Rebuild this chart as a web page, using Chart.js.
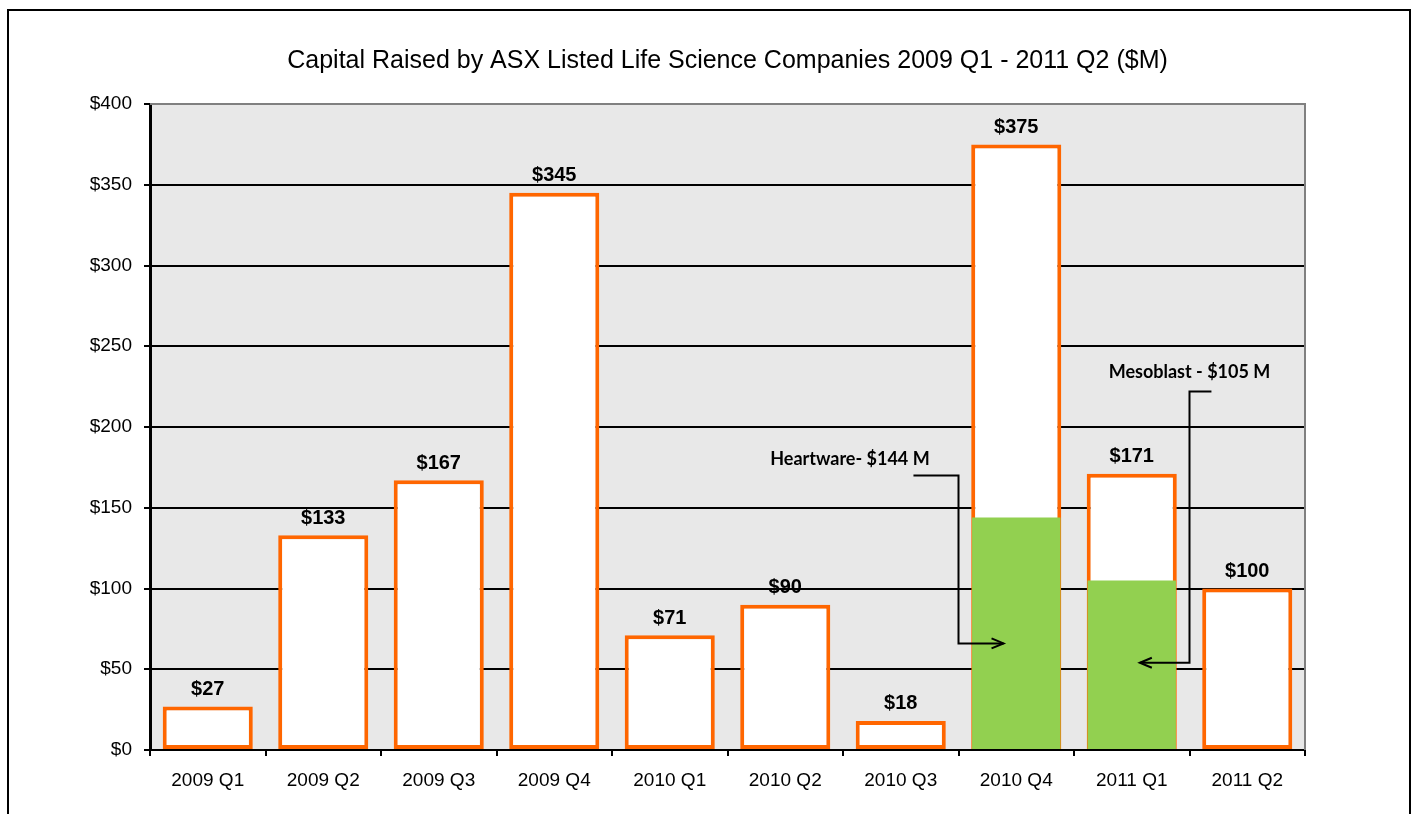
<!DOCTYPE html>
<html>
<head>
<meta charset="utf-8">
<script src="https://cdn.jsdelivr.net/npm/chart.js@4.4.1/dist/chart.umd.min.js"></script>
<style>
  html, body { margin: 0; padding: 0; background: #fff; }
  #frame { position: absolute; left: 7px; top: 9px; width: 1400px; height: 900px; border: 2px solid #000; }
  #wrap { position: absolute; left: 0; top: 0; width: 1416px; height: 814px; }
</style>
</head>
<body>
<div id="frame"></div>
<div id="wrap"><canvas id="chart" width="1416" height="814"></canvas></div>
<script>
// chart data
var quarters = ['2009 Q1', '2009 Q2', '2009 Q3', '2009 Q4', '2010 Q1', '2010 Q2', '2010 Q3', '2010 Q4', '2011 Q1', '2011 Q2'];
var totalRaised = [27, 133, 167, 345, 71, 90, 18, 375, 171, 100];
var singleRaise = [null, null, null, null, null, null, null, 144, 105, null];
var yTickValues = [0, 50, 100, 150, 200, 250, 300, 350, 400];
var calloutTexts = ['Heartware- $144 M', 'Mesoblast - $105 M'];

// callout geometry in axis units (category index, value)
var callouts = [
  { text: calloutTexts[0], label: [5.56, 180], path: [[6.11, 170], [6.5, 170], [6.5, 66], [6.89, 66]] },
  { text: calloutTexts[1], label: [8.5, 234], path: [[8.69, 222], [8.5, 222], [8.5, 54], [8.07, 54]] }
];

var ORANGE = '#FF6600';
var GREEN = '#92D050';
var ARIAL = '"Liberation Sans", Arial, sans-serif';

var plotBackground = {
  id: 'plotBackground',
  beforeDraw: function(chart) {
    var a = chart.chartArea, ctx = chart.ctx;
    ctx.save();
    ctx.fillStyle = '#E8E8E8';
    ctx.fillRect(a.left, a.top, a.right - a.left, a.bottom - a.top);
    ctx.restore();
  },
  afterDraw: function(chart) {
    var a = chart.chartArea, ctx = chart.ctx;
    ctx.save();
    ctx.strokeStyle = '#808080';
    ctx.lineWidth = 2;
    ctx.beginPath();
    ctx.moveTo(a.left, a.top);
    ctx.lineTo(a.right, a.top);
    ctx.lineTo(a.right, a.bottom);
    ctx.stroke();
    ctx.restore();
  }
};

var valueLabels = {
  id: 'valueLabels',
  afterDatasetsDraw: function(chart) {
    var ctx = chart.ctx;
    var meta = chart.getDatasetMeta(0);
    ctx.save();
    ctx.font = 'bold 20px ' + ARIAL;
    ctx.fillStyle = '#000';
    ctx.textAlign = 'center';
    ctx.textBaseline = 'middle';
    meta.data.forEach(function(bar, i) {
      ctx.fillText('$' + totalRaised[i], bar.x, bar.y - 17);
    });
    ctx.restore();
  }
};

var calloutPlugin = {
  id: 'callouts',
  afterDatasetsDraw: function(chart) {
    var ctx = chart.ctx, xs = chart.scales.x, ys = chart.scales.y;
    var px = function(p) { return [xs.getPixelForValue(p[0]), ys.getPixelForValue(p[1])]; };
    ctx.save();
    callouts.forEach(function(c) {
      var lp = px(c.label);
      ctx.font = 'bold 18px Lato, "Open Sans", sans-serif';
      ctx.fillStyle = '#000';
      ctx.textAlign = 'center';
      ctx.textBaseline = 'middle';
      ctx.fillText(c.text, lp[0], lp[1]);

      var pts = c.path.map(px);
      ctx.strokeStyle = '#000';
      ctx.lineWidth = 2;
      ctx.beginPath();
      ctx.moveTo(pts[0][0], pts[0][1]);
      for (var k = 1; k < pts.length; k++) ctx.lineTo(pts[k][0], pts[k][1]);
      ctx.stroke();

      // open arrow head
      var end = pts[pts.length - 1], prev = pts[pts.length - 2];
      var dir = end[0] > prev[0] ? 1 : -1;
      ctx.beginPath();
      ctx.moveTo(end[0] - dir * 12, end[1] - 5);
      ctx.lineTo(end[0], end[1]);
      ctx.lineTo(end[0] - dir * 12, end[1] + 5);
      ctx.stroke();
    });
    ctx.restore();
  }
};

var ctx = document.getElementById('chart').getContext('2d');
var chart = new Chart(ctx, {
  type: 'bar',
  data: {
    labels: quarters,
    datasets: [
      {
        label: 'Capital raised',
        data: totalRaised,
        backgroundColor: '#FFFFFF',
        borderColor: ORANGE,
        borderWidth: 4,
        borderSkipped: false,
        barPercentage: 0.78,
        categoryPercentage: 1,
        grouped: false,
        order: 2
      },
      {
        label: 'Single raise',
        data: singleRaise,
        backgroundColor: GREEN,
        borderWidth: 0,
        barPercentage: 0.765,
        categoryPercentage: 1,
        grouped: false,
        order: 1
      }
    ]
  },
  options: {
    responsive: false,
    animation: false,
    layout: { padding: { left: 0, right: 111, top: 40, bottom: 0 } },
    plugins: {
      legend: { display: false },
      tooltip: { enabled: false },
      title: {
        display: true,
        fullSize: false,
        text: 'Capital Raised by ASX Listed Life Science Companies 2009 Q1 - 2011 Q2 ($M)',
        color: '#000',
        font: { family: ARIAL, size: 25, weight: 'normal', lineHeight: 1.2 },
        padding: { top: 6, bottom: 28 }
      }
    },
    scales: {
      x: {
        grid: { offset: true, drawOnChartArea: false, drawTicks: true, tickLength: 6, color: '#000', lineWidth: 2 },
        border: { display: true, color: '#000', width: 2 },
        ticks: { color: '#000', padding: 13, maxRotation: 0, font: { family: ARIAL, size: 19 } },
        afterFit: function(scale) { scale.height = 64; }
      },
      y: {
        min: 0,
        max: 400,
        afterBuildTicks: function(scale) { scale.ticks = yTickValues.map(function(v) { return { value: v }; }); },
        grid: {
          color: function(c) { return c.tick && c.tick.value === 400 ? 'rgba(0,0,0,0)' : '#000'; },
          lineWidth: 2,
          tickLength: 6,
          tickColor: '#000'
        },
        border: { display: true, color: '#000', width: 3 },
        ticks: {
          color: '#000',
          padding: 12,
          font: { family: ARIAL, size: 19 },
          callback: function(v) { return '$' + v; }
        },
        afterFit: function(scale) { scale.width = 150; }
      }
    }
  },
  plugins: [plotBackground, valueLabels, calloutPlugin]
});
</script>
</body>
</html>
